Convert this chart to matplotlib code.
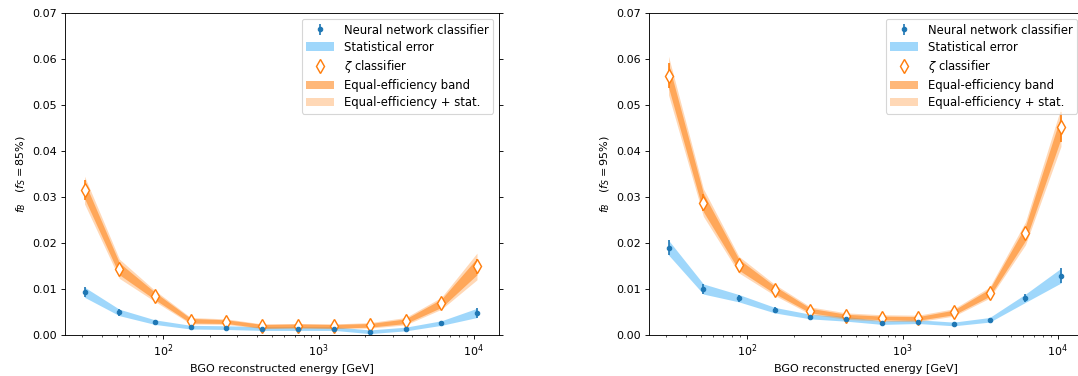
import numpy as np
import matplotlib
matplotlib.use('Agg')
import matplotlib.pyplot as plt

# bin centres [GeV]
energy = [31, 52, 88, 150, 255, 435, 740, 1260, 2140, 3640, 6200, 10500]

# f_S = 85%
nn_85 = [0.0093, 0.0049, 0.0028, 0.0017, 0.0016, 0.0014, 0.0014, 0.0014, 0.0007, 0.0013, 0.0026, 0.0048]
nn_85_err = [0.0011, 0.0007, 0.0005, 0.0004, 0.0004, 0.0004, 0.0004, 0.0004, 0.0004, 0.0004, 0.0005, 0.0010]
zeta_85 = [0.0315, 0.0144, 0.0085, 0.0031, 0.0029, 0.0019, 0.0020, 0.0019, 0.0021, 0.0030, 0.0069, 0.0149]
zeta_85_stat = [0.0021, 0.0009, 0.0006, 0.0004, 0.0003, 0.0003, 0.0003, 0.0003, 0.0003, 0.0004, 0.0006, 0.0017]
zeta_85_eq = [0.0018, 0.0013, 0.0008, 0.0005, 0.0004, 0.0004, 0.0004, 0.0004, 0.0004, 0.0005, 0.0009, 0.0018]
zeta_85_tot = [0.0030, 0.0021, 0.0012, 0.0007, 0.0006, 0.0005, 0.0005, 0.0005, 0.0006, 0.0008, 0.0013, 0.0029]

# f_S = 95%
nn_95 = [0.0190, 0.0100, 0.0080, 0.0054, 0.0040, 0.0035, 0.0027, 0.0029, 0.0024, 0.0033, 0.0080, 0.0129]
nn_95_err = [0.0016, 0.0011, 0.0008, 0.0006, 0.0005, 0.0005, 0.0004, 0.0004, 0.0004, 0.0005, 0.0009, 0.0016]
zeta_95 = [0.0564, 0.0288, 0.0153, 0.0098, 0.0053, 0.0041, 0.0037, 0.0036, 0.0049, 0.0092, 0.0221, 0.0452]
zeta_95_stat = [0.0028, 0.0019, 0.0010, 0.0007, 0.0005, 0.0004, 0.0004, 0.0004, 0.0005, 0.0008, 0.0014, 0.0033]
zeta_95_eq = [0.0026, 0.0020, 0.0012, 0.0008, 0.0005, 0.0004, 0.0004, 0.0004, 0.0005, 0.0008, 0.0016, 0.0025]
zeta_95_tot = [0.0042, 0.0030, 0.0018, 0.0012, 0.0008, 0.0007, 0.0007, 0.0007, 0.0008, 0.0012, 0.0025, 0.0042]


def draw_panel(ax, nn, nn_err, zeta, zeta_stat, zeta_eq, zeta_tot, label):
    x = np.array(energy)
    nn = np.array(nn)
    nn_err = np.array(nn_err)
    zeta = np.array(zeta)

    band_nn = ax.fill_between(x, nn - nn_err, nn + nn_err, color='#87cefa', alpha=0.8,
                              lw=0, label='Statistical error')
    h_nn = ax.errorbar(x, nn, yerr=nn_err, fmt='.', color='C0', ms=8,
                       label='Neural network classifier')

    band_tot = ax.fill_between(x, zeta - np.array(zeta_tot), zeta + np.array(zeta_tot),
                               color='C1', alpha=0.3, lw=0, label='Equal-efficiency + stat.')
    band_eq = ax.fill_between(x, zeta - np.array(zeta_eq), zeta + np.array(zeta_eq),
                              color='C1', alpha=0.55, lw=0, label='Equal-efficiency band')
    ax.errorbar(x, zeta, yerr=zeta_stat, fmt='none', ecolor='C1', elinewidth=1.5)
    h_zeta, = ax.plot(x, zeta, 'd', ls='none', mfc='white', mec='C1', mew=1.3, ms=9.5,
                      label=r'$\zeta$ classifier')

    ax.set_xscale('log')
    ax.set_ylim(0, 0.07)
    ax.set_xlim(23.2, 14560)
    ax.set_yticks(np.arange(0, 0.071, 0.01))
    ax.tick_params(axis='y', right=True)
    ax.set_xlabel('BGO reconstructed energy [GeV]')
    ax.set_ylabel(r'$f_B\quad(f_S = %d\%%)$' % label)
    ax.legend([h_nn, band_nn, h_zeta, band_eq, band_tot],
              ['Neural network classifier', 'Statistical error', r'$\zeta$ classifier',
               'Equal-efficiency band', 'Equal-efficiency + stat.'],
              loc='upper right', fontsize=10.5, labelspacing=0.35, handlelength=2.4,
              borderaxespad=0.5)


fig = plt.figure(figsize=(1078 / 80, 376 / 80), dpi=80)
ax1 = fig.add_axes([65 / 1078, 41 / 376, 434 / 1078, 322 / 376])
ax2 = fig.add_axes([649 / 1078, 41 / 376, 434 / 1078, 322 / 376])

draw_panel(ax1, nn_85, nn_85_err, zeta_85, zeta_85_stat, zeta_85_eq, zeta_85_tot, 85)
draw_panel(ax2, nn_95, nn_95_err, zeta_95, zeta_95_stat, zeta_95_eq, zeta_95_tot, 95)

fig.savefig('out.png', dpi=80)
